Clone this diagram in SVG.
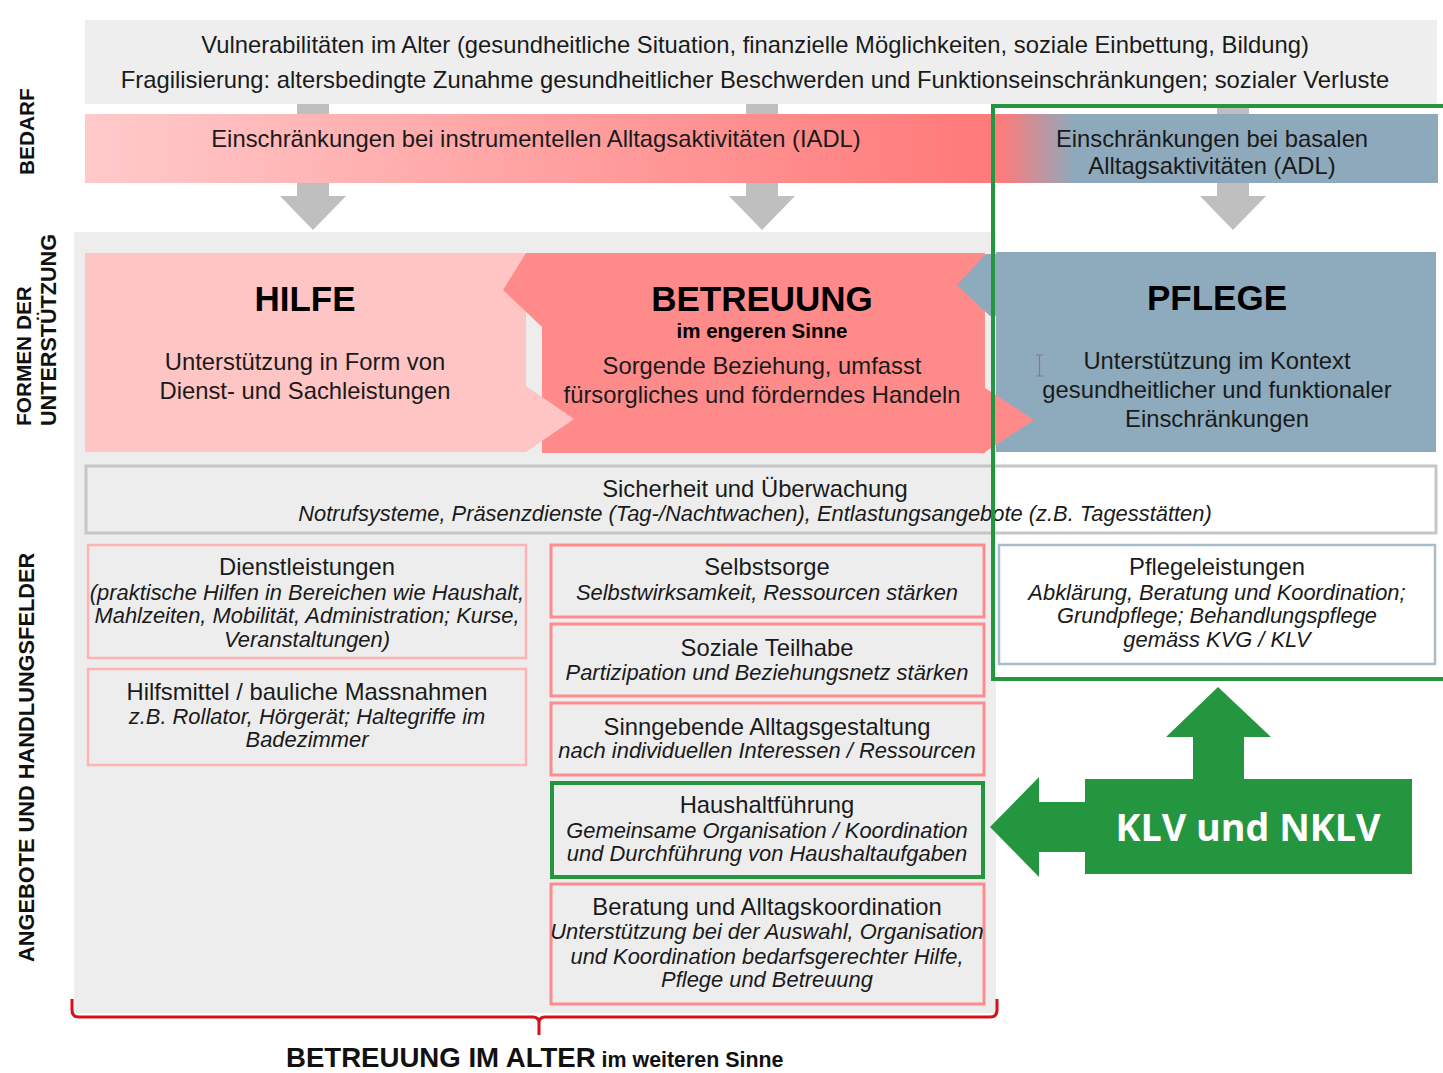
<svg xmlns="http://www.w3.org/2000/svg" width="1443" height="1073" viewBox="0 0 1443 1073">
  <defs>
    <linearGradient id="bandGrad" gradientUnits="userSpaceOnUse" x1="85" y1="0" x2="1440" y2="0">
      <stop offset="0" stop-color="#ffcaca"/>
      <stop offset="0.66" stop-color="#ff7a7a"/>
      <stop offset="0.675" stop-color="#ff7a7a"/>
      <stop offset="0.73" stop-color="#8ea9bc"/>
      <stop offset="1" stop-color="#8ea9bc"/>
    </linearGradient>
    <style>
      .t { font-family: "Liberation Sans", Arial, sans-serif; fill: #1a1a1a; text-anchor: middle; }
      .n { font-size: 23.8px; }
      .it { font-size: 21.9px; font-style: italic; }
      .big { font-size: 35px; font-weight: bold; fill: #000; }
      .sub { font-size: 20.5px; font-weight: bold; fill: #000; }
      .side { font-family: "Liberation Sans", Arial, sans-serif; font-weight: bold; fill: #111; }
      .grayArrow { fill: #bfbfbf; }
      .pinkBox { fill: none; stroke: #ffb3b3; stroke-width: 2.5; }
      .redBox { fill: none; stroke: #ff8c8c; stroke-width: 3; }
      .greenFill { fill: #23963f; }
    </style>
  </defs>

  <rect x="0" y="0" width="1443" height="1073" fill="#ffffff"/>

  <!-- Need: vulnerabilities -->
  <g id="need-top">
    <rect x="85" y="20" width="1352" height="84" fill="#eeeeee"/>
    <text class="t n" x="755" y="53">Vulnerabilitäten im Alter (gesundheitliche Situation, finanzielle Möglichkeiten, soziale Einbettung, Bildung)</text>
    <text class="t n" x="755" y="88">Fragilisierung: altersbedingte Zunahme gesundheitlicher Beschwerden und Funktionseinschränkungen; sozialer Verluste</text>
  </g>

  <!-- Downward arrows from need to forms of support -->
  <g id="connectors">
    <path class="grayArrow" d="M297,104 H329 V196 H346 L313,230 L280,196 H297 Z"/>
    <path class="grayArrow" d="M746,104 H778 V196 H795 L762,230 L729,196 H746 Z"/>
    <path class="grayArrow" d="M1217,104 H1249 V196 H1266 L1233,230 L1200,196 H1217 Z"/>
  </g>

  <!-- Need: limitations band -->
  <g id="need-band">
    <rect x="85" y="114" width="1353" height="69" fill="url(#bandGrad)"/>
    <text class="t n" x="536" y="147">Einschränkungen bei instrumentellen Alltagsaktivitäten (IADL)</text>
    <text class="t n" x="1212" y="147">Einschränkungen bei basalen</text>
    <text class="t n" x="1212" y="174">Alltagsaktivitäten (ADL)</text>
  </g>

  <!-- Gray panel behind the care area -->
  <rect id="panel" x="74" y="232" width="922" height="781" fill="#ededed"/>

  <!-- Forms of support -->
  <g id="hilfe">
    <rect x="85" y="253" width="441" height="199" fill="#ffc4c4"/>
    <text class="t big" x="305" y="311">HILFE</text>
    <text class="t n" x="305" y="370">Unterstützung in Form von</text>
    <text class="t n" x="305" y="399">Dienst- und Sachleistungen</text>
  </g>

  <g id="betreuung">
    <path d="M526,253 H985 V453 H542 V327 L503,290 Z" fill="#ff8a8a"/>
    <path d="M526,386 L574,419 L526,452 Z" fill="#ffc4c4"/>
    <text class="t big" x="762" y="311">BETREUUNG</text>
    <text class="t sub" x="762" y="338">im engeren Sinne</text>
    <text class="t n" x="762" y="374">Sorgende Beziehung, umfasst</text>
    <text class="t n" x="762" y="403">fürsorgliches und förderndes Handeln</text>
  </g>

  <g id="pflege">
    <rect x="996" y="252" width="440" height="200" fill="#8eaabd"/>
    <path d="M997,254 L986,254 L957,285 L990,316 L997,316 Z" fill="#8eaabd"/>
    <path d="M982,386 L1034,420 L982,454 Z" fill="#ff8a8a"/>
    <text class="t big" x="1217" y="310">PFLEGE</text>
    <text class="t n" x="1217" y="369">Unterstützung im Kontext</text>
    <text class="t n" x="1217" y="398">gesundheitlicher und funktionaler</text>
    <text class="t n" x="1217" y="427">Einschränkungen</text>
    <path d="M1036,355 H1043 M1039.5,355 V376 M1036,376 H1043" stroke="#8a7c70" stroke-width="1.2" fill="none"/>
  </g>

  <!-- Offers and fields of action -->
  <g id="sicherheit">
    <rect x="86" y="466" width="1350" height="67" fill="none" stroke="#c6c6c6" stroke-width="3"/>
    <text class="t n" x="755" y="497">Sicherheit und Überwachung</text>
    <text class="t it" x="755" y="521">Notrufsysteme, Präsenzdienste (Tag-/Nachtwachen), Entlastungsangebote (z.B. Tagesstätten)</text>
  </g>

  <g id="dienstleistungen">
    <rect class="pinkBox" x="88" y="545" width="438" height="113"/>
    <text class="t n" x="307" y="575">Dienstleistungen</text>
    <text class="t it" x="307" y="600">(praktische Hilfen in Bereichen wie Haushalt,</text>
    <text class="t it" x="307" y="623">Mahlzeiten, Mobilität, Administration; Kurse,</text>
    <text class="t it" x="307" y="647">Veranstaltungen)</text>
  </g>

  <g id="hilfsmittel">
    <rect class="pinkBox" x="88" y="669" width="438" height="96"/>
    <text class="t n" x="307" y="700">Hilfsmittel / bauliche Massnahmen</text>
    <text class="t it" x="307" y="724">z.B. Rollator, Hörgerät; Haltegriffe im</text>
    <text class="t it" x="307" y="747">Badezimmer</text>
  </g>

  <g id="selbstsorge">
    <rect class="redBox" x="551" y="545" width="433" height="72"/>
    <text class="t n" x="767" y="575">Selbstsorge</text>
    <text class="t it" x="767" y="600">Selbstwirksamkeit, Ressourcen stärken</text>
  </g>

  <g id="teilhabe">
    <rect class="redBox" x="551" y="624" width="433" height="72"/>
    <text class="t n" x="767" y="656">Soziale Teilhabe</text>
    <text class="t it" x="767" y="680">Partizipation und Beziehungsnetz stärken</text>
  </g>

  <g id="alltagsgestaltung">
    <rect class="redBox" x="551" y="703" width="433" height="72"/>
    <text class="t n" x="767" y="735">Sinngebende Alltagsgestaltung</text>
    <text class="t it" x="767" y="758">nach individuellen Interessen / Ressourcen</text>
  </g>

  <g id="haushaltfuehrung">
    <rect x="552" y="783" width="431" height="94" fill="none" stroke="#23963f" stroke-width="4"/>
    <text class="t n" x="767" y="813">Haushaltführung</text>
    <text class="t it" x="767" y="838">Gemeinsame Organisation / Koordination</text>
    <text class="t it" x="767" y="861">und Durchführung von Haushaltaufgaben</text>
  </g>

  <g id="beratung">
    <rect class="redBox" x="551" y="884" width="433" height="120"/>
    <text class="t n" x="767" y="915">Beratung und Alltagskoordination</text>
    <text class="t it" x="767" y="939">Unterstützung bei der Auswahl, Organisation</text>
    <text class="t it" x="767" y="964">und Koordination bedarfsgerechter Hilfe,</text>
    <text class="t it" x="767" y="987">Pflege und Betreuung</text>
  </g>

  <g id="pflegeleistungen">
    <rect x="999" y="545" width="436" height="119" fill="#ffffff" stroke="#a9bccb" stroke-width="2.5"/>
    <text class="t n" x="1217" y="575">Pflegeleistungen</text>
    <text class="t it" x="1217" y="600">Abklärung, Beratung und Koordination;</text>
    <text class="t it" x="1217" y="623">Grundpflege; Behandlungspflege</text>
    <text class="t it" x="1217" y="647">gemäss KVG / KLV</text>
  </g>

  <!-- Scope of KLV -->
  <rect id="klv-scope" x="993" y="106" width="460" height="573" fill="none" stroke="#23963f" stroke-width="4"/>

  <g id="klv">
    <path class="greenFill" d="M1193,780 V737 H1166 L1218,687 L1271,737 H1244 V780 Z"/>
    <path class="greenFill" d="M1085,779 H1412 V874 H1085 V852 H1039 V877 L990,827 L1039,777 V802 H1085 Z"/>
    <text x="1248" y="841" font-family="'Open Sans', 'Noto Sans', sans-serif" font-weight="bold" font-size="38" fill="#ffffff" text-anchor="middle" textLength="265" lengthAdjust="spacingAndGlyphs">KLV und NKLV</text>
  </g>

  <!-- Bracket: care in old age -->
  <g id="bracket">
    <path d="M72,999 V1010 Q72,1017 79,1017 H533 Q539,1017 539,1023 V1035 M539,1023 Q539,1017 545,1017 H990 Q997,1017 997,1010 V999" fill="none" stroke="#d4111b" stroke-width="3"/>
    <text x="286" y="1067" font-family="'Liberation Sans', Arial, sans-serif" font-weight="bold" fill="#111"><tspan font-size="27.6px">BETREUUNG IM ALTER</tspan><tspan font-size="21.4px"> im weiteren Sinne</tspan></text>
  </g>

  <!-- Row labels -->
  <g id="labels">
    <text class="side" font-size="20.8" transform="translate(34,175) rotate(-90)">BEDARF</text>
    <text class="side" font-size="20.8" transform="translate(31,426) rotate(-90)">FORMEN DER</text>
    <text class="side" font-size="21.6" transform="translate(56,426) rotate(-90)">UNTERSTÜTZUNG</text>
    <text class="side" font-size="21.8" transform="translate(34,962) rotate(-90)">ANGEBOTE UND HANDLUNGSFELDER</text>
  </g>
</svg>
